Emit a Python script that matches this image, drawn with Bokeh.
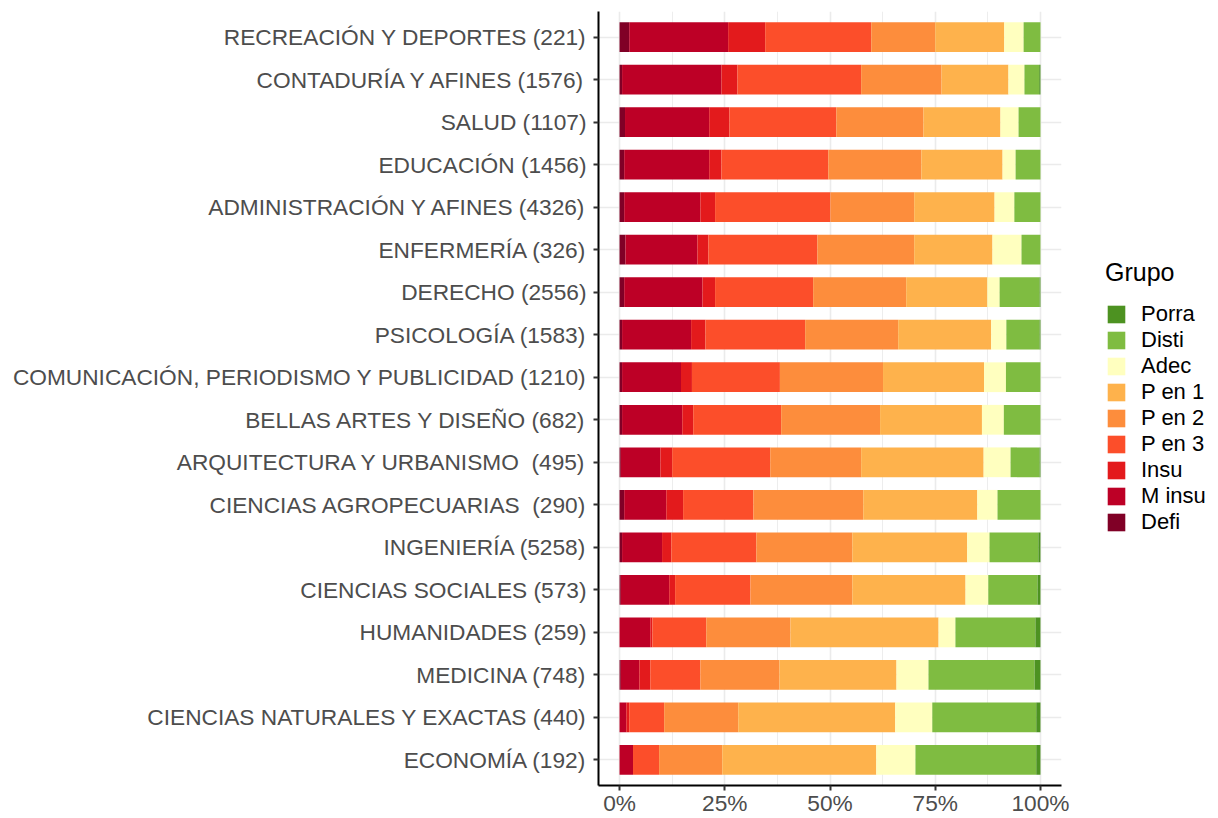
from bokeh.plotting import figure
from bokeh.layouts import row
from bokeh.models import (FixedTicker, NumeralTickFormatter, Legend, LegendItem,
                          ColumnDataSource, FactorRange, Range1d)
from bokeh.embed import file_html
from bokeh.resources import INLINE

categories = [
    "RECREACIÓN Y DEPORTES (221)",
    "CONTADURÍA Y AFINES (1576)",
    "SALUD (1107)",
    "EDUCACIÓN (1456)",
    "ADMINISTRACIÓN Y AFINES (4326)",
    "ENFERMERÍA (326)",
    "DERECHO (2556)",
    "PSICOLOGÍA (1583)",
    "COMUNICACIÓN, PERIODISMO Y PUBLICIDAD (1210)",
    "BELLAS ARTES Y DISEÑO (682)",
    "ARQUITECTURA Y URBANISMO \u00a0(495)",
    "CIENCIAS AGROPECUARIAS \u00a0(290)",
    "INGENIERÍA (5258)",
    "CIENCIAS SOCIALES (573)",
    "HUMANIDADES (259)",
    "MEDICINA (748)",
    "CIENCIAS NATURALES Y EXACTAS (440)",
    "ECONOMÍA (192)",
]

# percentages per group (rows follow categories order)
defi   = [2.3, 0.6, 1.3, 1.1, 1.1, 1.4, 1.1, 0.6, 0.6, 0.6, 0.3, 1.1, 0.6, 0.3, 0.0, 0.3, 0.0, 0.0]
m_insu = [23.5, 23.6, 20.0, 20.2, 18.1, 17.1, 18.6, 16.4, 14.0, 14.3, 9.4, 10.0, 9.5, 11.5, 7.3, 4.4, 1.6, 3.2]
insu   = [8.8, 3.8, 4.8, 2.9, 3.5, 2.6, 3.0, 3.4, 2.6, 2.6, 2.8, 4.0, 2.2, 1.4, 0.5, 2.6, 0.7, 0.0]
p_en_3 = [25.2, 29.4, 25.4, 25.4, 27.4, 25.9, 23.3, 23.7, 20.9, 20.9, 23.3, 16.7, 20.2, 17.9, 12.8, 11.9, 8.3, 6.2]
p_en_2 = [15.2, 19.1, 20.7, 22.1, 19.9, 23.0, 22.1, 22.1, 24.5, 23.5, 21.6, 26.1, 22.8, 24.2, 20.0, 18.8, 17.6, 15.0]
p_en_1 = [16.4, 15.9, 18.3, 19.3, 19.1, 18.6, 19.3, 22.1, 24.0, 24.2, 29.1, 27.1, 27.3, 26.9, 35.2, 27.8, 37.3, 36.6]
adec   = [4.6, 3.8, 4.3, 3.1, 4.7, 6.9, 2.9, 3.6, 5.2, 5.2, 6.4, 4.8, 5.3, 5.4, 4.0, 7.6, 8.8, 9.3]
disti  = [4.0, 3.5, 5.2, 5.9, 6.2, 4.5, 9.5, 7.9, 8.2, 8.7, 6.9, 10.2, 11.6, 11.7, 19.0, 25.2, 24.7, 28.7]
porra  = [0.0, 0.3, 0.0, 0.0, 0.0, 0.0, 0.2, 0.2, 0.0, 0.0, 0.2, 0.0, 0.5, 0.7, 1.2, 1.4, 1.0, 1.0]

grupos = ["Defi", "M insu", "Insu", "P en 3", "P en 2", "P en 1", "Adec", "Disti", "Porra"]
colores = ["#800026", "#BD0026", "#E31A1C", "#FC4E2A", "#FD8D3C", "#FEB24C",
           "#FFFFBF", "#7FBC41", "#4D9221"]
series = [defi, m_insu, insu, p_en_3, p_en_2, p_en_1, adec, disti, porra]
keys = ["g%d" % i for i in range(len(grupos))]

data = {"cat": categories}
for k, s in zip(keys, series):
    data[k] = [v / 100.0 for v in s]
src = ColumnDataSource(data)

FONT = "Liberation Sans"

p = figure(width=1080, height=818,
           y_range=FactorRange(factors=list(reversed(categories)),
                               range_padding=0.1, range_padding_units="absolute"),
           x_range=Range1d(-0.05, 1.05),
           output_backend="svg", toolbar_location=None,
           min_border_left=598, min_border_right=19,
           min_border_top=11, min_border_bottom=30)

renderers = p.hbar_stack(keys, y="cat", height=0.7, source=src,
                         fill_color=colores, line_color=None)

# axes
p.xaxis.ticker = FixedTicker(ticks=[0, 0.25, 0.5, 0.75, 1.0],
                             minor_ticks=[0.125, 0.375, 0.625, 0.875])
p.xaxis.formatter = NumeralTickFormatter(format="0%")
for ax in (p.xaxis[0], p.yaxis[0]):
    ax.axis_line_color = "black"
    ax.axis_line_width = 2
    ax.major_tick_line_color = "#333333"
    ax.major_tick_line_width = 2
    ax.major_tick_in = 0
    ax.major_tick_out = 5
    ax.minor_tick_line_color = None
    ax.major_label_text_font = FONT
    ax.major_label_text_font_size = "22.7px"
    ax.major_label_text_color = "#4D4D4D"
p.yaxis.major_label_standoff = 7
p.xaxis.major_label_standoff = -1

p.xgrid.grid_line_color = "#EBEBEB"
p.xgrid.grid_line_width = 1.6
p.xgrid.minor_grid_line_color = "#EBEBEB"
p.xgrid.minor_grid_line_width = 0.9
p.ygrid.grid_line_color = "#EBEBEB"
p.ygrid.grid_line_width = 1.6
p.outline_line_color = None

# legend panel: axis-less figure whose hidden stacked bars supply the keys
pl = figure(width=138, height=818, x_range=Range1d(-0.05, 1.05),
            y_range=FactorRange(factors=list(reversed(categories))),
            output_backend="svg", toolbar_location=None, min_border=0)
pl.axis.visible = False
pl.grid.visible = False
pl.outline_line_color = None
key_renderers = pl.hbar_stack(keys, y="cat", height=0.7, source=src,
                              fill_color=colores, line_color=None)
for r in key_renderers:
    r.visible = False

items = [LegendItem(label=g, renderers=[r]) for g, r in zip(grupos, key_renderers)]
items = list(reversed(items))
legend = Legend(items=items, location=(25, 250), title="Grupo",
                title_text_font=FONT, title_text_font_size="25px",
                title_text_font_style="normal", title_text_color="black",
                title_standoff=14,
                label_text_font=FONT, label_text_font_size="22px",
                label_text_color="black", label_standoff=14,
                glyph_width=22, glyph_height=22, label_height=22,
                spacing=0, padding=0, margin=0,
                inactive_fill_alpha=0,
                background_fill_alpha=0, border_line_color=None)
pl.add_layout(legend, "center")

layout = row(p, pl, spacing=0)
open("out.html", "w").write(file_html(layout, INLINE))
